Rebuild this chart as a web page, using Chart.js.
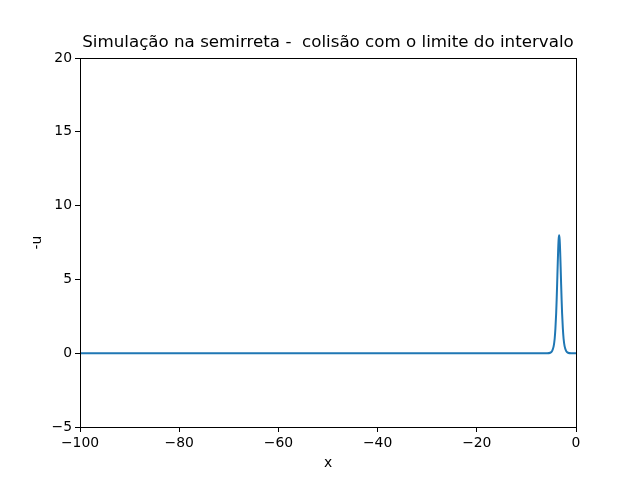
<!DOCTYPE html>
<html>
<head>
<meta charset="utf-8">
<script src="https://cdn.jsdelivr.net/npm/chart.js@4"></script>
<style>
  html, body { margin: 0; padding: 0; background: #fff; }
  #wrap { width: 640px; height: 480px; }
</style>
</head>
<body>
<div id="wrap"><canvas id="chart" width="640" height="480"></canvas></div>
<script>
// values: flat zero line, one narrow pulse centred near x = -3.4
const xValues = [-100, -60, -20, -8, -5.8, -5.2, -4.8, -4.5, -4.3, -4.15, -4.0, -3.9, -3.8, -3.7, -3.6, -3.5, -3.4,
                 -3.3, -3.2, -3.1, -3.0, -2.9, -2.8, -2.65, -2.5, -2.3, -2.0, -1.6, -1.0, 0];
const uValues = [0, 0, 0, 0, 0, 0.03, 0.16, 0.48, 0.98, 1.67, 2.69, 3.62, 4.71, 5.87, 6.95, 7.72, 8.0,
                 7.72, 6.95, 5.87, 4.71, 3.62, 2.69, 1.67, 0.98, 0.48, 0.16, 0.03, 0, 0];
const xTicks = [-100, -80, -60, -40, -20, 0];
const yTicks = [-5, 0, 5, 10, 15, 20];

const points = xValues.map((x, i) => ({ x: x, y: uValues[i] }));
const minus = v => String(v).replace('-', '\u2212');

// box round the plot area + title centred over the axes, like matplotlib
const frame = {
  id: 'frame',
  afterLayout(chart) {
    if (chart.titleBlock) {
      chart.titleBlock.left = chart.chartArea.left;
      chart.titleBlock.right = chart.chartArea.right;
    }
  },
  afterDraw(chart) {
    const a = chart.chartArea, ctx = chart.ctx;
    ctx.save();
    ctx.strokeStyle = '#000';
    ctx.lineWidth = 1;
    ctx.strokeRect(Math.round(a.left) + 0.5, Math.round(a.top) + 0.5,
                   Math.round(a.right - a.left), Math.round(a.bottom - a.top));
    ctx.restore();
  }
};

Chart.defaults.font.family = '"DejaVu Sans", sans-serif';
Chart.defaults.color = '#000';

new Chart(document.getElementById('chart'), {
  type: 'scatter',
  data: {
    datasets: [{
      data: points,
      showLine: true,
      borderColor: '#1f77b4',
      borderWidth: 2,
      pointRadius: 0,
      cubicInterpolationMode: 'monotone'
    }]
  },
  options: {
    responsive: false,
    animation: false,
    layout: { padding: { right: 64 } },
    plugins: {
      legend: { display: false },
      tooltip: { enabled: false },
      title: {
        display: true,
        text: 'Simulação na semirreta -  colisão com o limite do intervalo',
        font: { size: 16.7, weight: 'normal' },
        color: '#000',
        padding: { top: 33, bottom: 5 }
      }
    },
    scales: {
      x: {
        type: 'linear',
        min: -100, max: 0,
        afterBuildTicks: s => { s.ticks = xTicks.map(v => ({ value: v })); },
        afterFit: s => { s.height = 53; },
        ticks: { font: { size: 13.9 }, padding: 3, maxRotation: 0, callback: minus },
        grid: { drawOnChartArea: false, tickLength: 5, tickColor: '#000' },
        border: { color: '#000' },
        title: { display: true, text: 'x', font: { size: 13.9 }, padding: { top: 0, bottom: 8 } }
      },
      y: {
        min: -5, max: 20,
        afterBuildTicks: s => { s.ticks = yTicks.map(v => ({ value: v })); },
        afterFit: s => { s.width = 80; },
        ticks: { font: { size: 13.9 }, padding: 3, callback: minus },
        grid: { drawOnChartArea: false, tickLength: 5, tickColor: '#000' },
        border: { color: '#000' },
        title: { display: true, text: '-u', font: { size: 13.9 }, padding: { top: 29, bottom: 0 } }
      }
    }
  },
  plugins: [frame]
});
</script>
</body>
</html>
